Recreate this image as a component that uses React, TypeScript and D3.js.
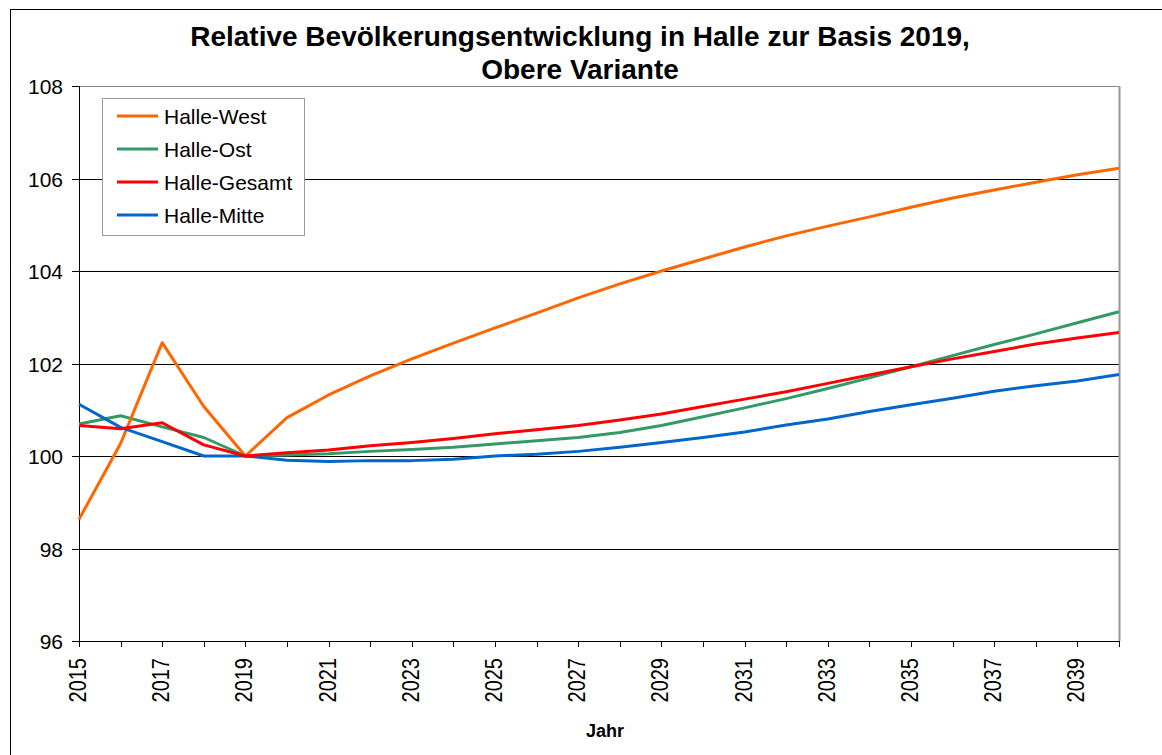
import React from 'react';
import * as d3 from 'd3';

// Jahre 2015..2040
const years = [
  2015, 2016, 2017, 2018, 2019, 2020, 2021, 2022, 2023, 2024, 2025, 2026, 2027,
  2028, 2029, 2030, 2031, 2032, 2033, 2034, 2035, 2036, 2037, 2038, 2039, 2040,
];

const halleWest = [
  98.63, 100.27, 102.45, 101.07, 100.0, 100.83, 101.32, 101.73, 102.1, 102.44, 102.77, 103.09, 103.42,
  103.72, 104.0, 104.26, 104.52, 104.76, 104.97, 105.17, 105.38, 105.58, 105.75, 105.92, 106.08, 106.22,
];
const halleOst = [
  100.69, 100.87, 100.63, 100.4, 100.0, 100.02, 100.05, 100.1, 100.14, 100.19, 100.26, 100.33, 100.4,
  100.51, 100.66, 100.85, 101.04, 101.24, 101.46, 101.69, 101.93, 102.17, 102.41, 102.64, 102.88, 103.12,
];
const halleGesamt = [
  100.66, 100.59, 100.72, 100.24, 100.0, 100.07, 100.13, 100.22, 100.29, 100.38, 100.48, 100.57, 100.66,
  100.78, 100.91, 101.07, 101.23, 101.39, 101.57, 101.75, 101.93, 102.1, 102.26, 102.42, 102.55, 102.67,
];
const halleMitte = [
  101.12, 100.62, 100.31, 100.0, 100.0, 99.91, 99.88, 99.9, 99.9, 99.93, 100.0, 100.04, 100.1,
  100.19, 100.29, 100.4, 100.52, 100.67, 100.8, 100.96, 101.11, 101.25, 101.4, 101.52, 101.62, 101.76,
];

const seriesNames = ['Halle-West', 'Halle-Ost', 'Halle-Gesamt', 'Halle-Mitte'];
const seriesColors = ['#FF6600', '#339966', '#FF0000', '#0066CC'];
const seriesValues = [halleWest, halleOst, halleGesamt, halleMitte];

const yTicks = [96, 98, 100, 102, 104, 106, 108];
const xLabelYears = years.filter((y) => (y - 2015) % 2 === 0 && y < 2040);

const FONT = '"Liberation Sans", Arial, sans-serif';

const App = () => {
  const width = 1162;
  const height = 755;
  const margin = { top: 86, right: 43, bottom: 114, left: 79 };

  const x = d3.scaleLinear()
    .domain([2015, 2040])
    .range([margin.left, width - margin.right]);

  const y = d3.scaleLinear()
    .domain([96, 108])
    .range([height - margin.bottom, margin.top]);

  const line = d3.line<number>()
    .x((_, i) => x(years[i]))
    .y((d) => y(d));

  return (
    <svg
      width={width}
      height={height}
      style={{ position: 'absolute', left: 0, top: 0, background: '#fff' }}
      fontFamily={FONT}
    >
      {/* outer frame */}
      <rect x={10.5} y={9.5} width={1160} height={760} fill="none" stroke="#000" strokeWidth={1} />

      {/* title */}
      <text x={580} y={46} textAnchor="middle" fontSize={28} fontWeight="bold" fill="#000">
        Relative Bevölkerungsentwicklung in Halle zur Basis 2019,
      </text>
      <text x={580} y={79} textAnchor="middle" fontSize={28} fontWeight="bold" fill="#000">
        Obere Variante
      </text>

      {/* grid lines */}
      {yTicks.map((t) => (
        <line
          key={'g' + t}
          x1={x(2015)}
          x2={x(2040)}
          y1={Math.round(y(t)) + 0.5}
          y2={Math.round(y(t)) + 0.5}
          stroke={t === 108 ? '#888' : '#000'}
          strokeWidth={1}
        />
      ))}
      {/* right plot border */}
      <line
        x1={Math.round(x(2040)) + 0.5}
        x2={Math.round(x(2040)) + 0.5}
        y1={y(108)}
        y2={y(96)}
        stroke="#999"
        strokeWidth={2}
      />

      {/* y axis */}
      <line
        x1={Math.round(x(2015)) + 0.5}
        x2={Math.round(x(2015)) + 0.5}
        y1={y(108)}
        y2={y(96)}
        stroke="#000"
      />
      {yTicks.map((t) => (
        <g key={'y' + t}>
          <line
            x1={x(2015) - 7}
            x2={x(2015)}
            y1={Math.round(y(t)) + 0.5}
            y2={Math.round(y(t)) + 0.5}
            stroke="#000"
          />
          <text x={63} y={y(t) + 8} textAnchor="end" fontSize={21} fill="#000">
            {t}
          </text>
        </g>
      ))}

      {/* x axis ticks */}
      {years.map((yr) => (
        <line
          key={'xt' + yr}
          x1={Math.round(x(yr)) + 0.5}
          x2={Math.round(x(yr)) + 0.5}
          y1={y(96)}
          y2={y(96) + 6}
          stroke="#000"
        />
      ))}
      {xLabelYears.map((yr) => (
        <text
          key={'xl' + yr}
          transform={`translate(${x(yr) + 7},${y(96) + 17}) rotate(-90) scale(1,1.18)`}
          textAnchor="end"
          fontSize={20}
          fill="#000"
        >
          {yr}
        </text>
      ))}
      <text x={605} y={737} textAnchor="middle" fontSize={18} fontWeight="bold" fill="#000">
        Jahr
      </text>

      {/* lines, drawn so Gesamt and Mitte lie on top */}
      {[1, 0, 3, 2].map((i) => (
        <path
          key={seriesNames[i]}
          d={line(seriesValues[i]) || ''}
          fill="none"
          stroke={seriesColors[i]}
          strokeWidth={3}
          strokeLinejoin="round"
        />
      ))}

      {/* legend */}
      <rect x={102.5} y={98.5} width={202} height={137} fill="#fff" stroke="#999" strokeWidth={1} />
      {seriesNames.map((name, i) => (
        <g key={'lg' + name} transform={`translate(117,${116 + i * 33})`}>
          <line x1={0} x2={41} y1={0} y2={0} stroke={seriesColors[i]} strokeWidth={3} />
          <text x={47} y={8} fontSize={21} fill="#000">
            {name}
          </text>
        </g>
      ))}
    </svg>
  );
};

export default App;
